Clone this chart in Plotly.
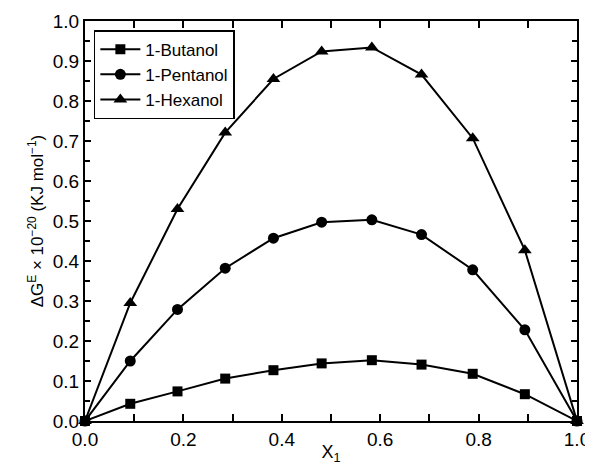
import plotly.graph_objects as go

x1 = [0.0, 0.092, 0.188, 0.285, 0.383, 0.481, 0.583, 0.684, 0.788, 0.894, 1.0]
butanol = [0.0, 0.043, 0.074, 0.106, 0.127, 0.144, 0.152, 0.141, 0.118, 0.067, 0.0]
pentanol = [0.0, 0.150, 0.279, 0.382, 0.457, 0.497, 0.503, 0.466, 0.378, 0.228, 0.0]
hexanol = [0.0, 0.295, 0.530, 0.721, 0.855, 0.924, 0.934, 0.866, 0.707, 0.427, 0.0]

series = [
    ("1-Butanol", butanol, "square", 10),
    ("1-Pentanol", pentanol, "circle", 11),
    ("1-Hexanol", hexanol, "triangle-up", 12),
]

fig = go.Figure()
for name, ys, sym, sz in series:
    fig.add_trace(go.Scatter(
        x=x1, y=ys, name=name, mode="lines+markers",
        line=dict(color="black", width=2),
        marker=dict(symbol=sym, size=sz, color="black"),
        cliponaxis=False,
    ))

font_family = "Liberation Sans, Arial, sans-serif"
fig.update_layout(
    width=585, height=457,
    margin=dict(l=77, r=16, t=13, b=44),
    plot_bgcolor="white", paper_bgcolor="white",
    font=dict(family=font_family, size=19, color="black"),
    showlegend=True,
    legend=dict(
        x=0.018, y=0.977, xanchor="left", yanchor="top",
        bgcolor="white", bordercolor="black", borderwidth=1.5,
        font=dict(size=17), tracegroupgap=0, itemwidth=40,
    ),
    xaxis=dict(
        range=[0, 1], dtick=0.2, tick0=0, tickformat=".1f", automargin=False,
        showline=True, mirror="allticks", linecolor="black", linewidth=2,
        ticks="inside", ticklen=7, tickwidth=1.5, tickcolor="black",
        minor=dict(dtick=0.1, ticks="inside", ticklen=7, tickwidth=1.5, tickcolor="black"),
        showgrid=False, zeroline=False,
        title=dict(text="X<sub>1</sub>", font=dict(size=18), standoff=0),
    ),
    yaxis=dict(
        range=[0, 1], dtick=0.1, tick0=0, tickformat=".1f", automargin=False,
        showline=True, mirror="allticks", linecolor="black", linewidth=2,
        ticks="inside", ticklen=6, tickwidth=1.5, tickcolor="black",
        minor=dict(dtick=0.05, ticks="inside", ticklen=5, tickwidth=1.5, tickcolor="black"),
        showgrid=False, zeroline=False,
        title=dict(text="ΔG<sup>E</sup> × 10<sup>−20</sup> (KJ mol<sup>−1</sup>)", font=dict(size=17), standoff=5),
    ),
)

fig.write_html("out.html")
